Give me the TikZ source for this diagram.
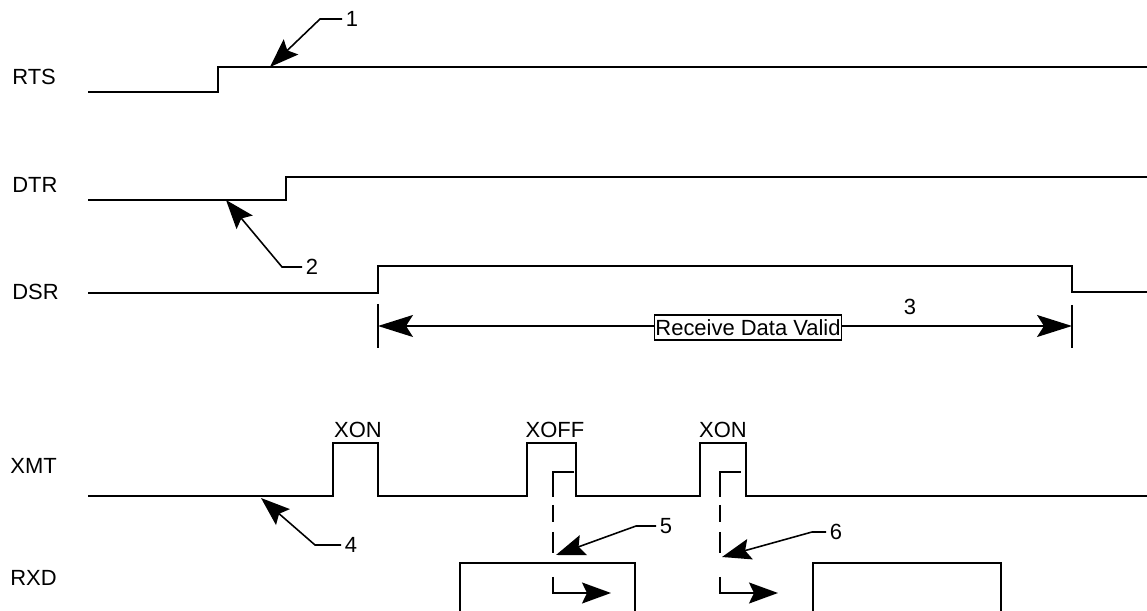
\documentclass[tikz,border=0pt]{standalone}
\usepackage{fontspec}
\setmainfont{Liberation Sans}
\usetikzlibrary{arrows.meta}

\tikzset{
  sig/.style={line width=1.1pt},
  lbl/.style={font=\fontsize{12.5}{14}\selectfont, inner sep=0pt},
  num/.style={lbl, inner sep=2pt},
  callout/.style={line width=0.9pt, -{Stealth[length=0.58cm,width=0.42cm,inset=0.1cm]}},
  dim/.style={line width=0.9pt, {Stealth[length=0.7cm,width=0.44cm,inset=0.14cm]}-{Stealth[length=0.7cm,width=0.44cm,inset=0.14cm]}},
  valid/.style={lbl, draw, fill=white, line width=0.8pt, inner xsep=0.5pt, minimum height=0.5cm},
  dashl/.style={line width=1pt, dash pattern=on 0.92cm off 0.16cm on 0.34cm off 0.2cm on 0.42cm off 0.48cm on 5cm,
    -{Stealth[length=0.58cm,width=0.42cm,inset=0.1cm]}}
}

\begin{document}
\begin{tikzpicture}[x=0.02cm,y=-0.02cm]
            \useasboundingbox (0,0) rectangle (1147,611);

            % Signal names
            \node[lbl,anchor=west] (rts) at (12,77) {RTS};
            \node[lbl,anchor=west] (dtr) at (12,185) {DTR};
            \node[lbl,anchor=west] (dsr) at (12,292) {DSR};
            \node[lbl,anchor=west] (xmt) at (10,466) {XMT};
            \node[lbl,anchor=west] (rxd) at (10,578) {RXD};

            % Waveforms
            \draw[sig] (88,92) -- (218,92) -- (218,67) -- (1147,67);
            \draw[sig] (88,200) -- (286,200) -- (286,177) -- (1147,177);
            \draw[sig] (88,293) -- (378,293) -- (378,266) -- (1072,266) -- (1072,292) -- (1147,292);
            \draw[sig] (88,496) -- (333,496) -- (333,443) -- (378,443) -- (378,496)
                -- (527,496) -- (527,443) -- (576,443) -- (576,496)
                -- (700,496) -- (700,443) -- (746,443) -- (746,496) -- (1147,496);
            \draw[sig] (460,611) -- (460,563) -- (635,563) -- (635,611);
            \draw[sig] (813,611) -- (813,563) -- (1001,563) -- (1001,611);

            % Pulse names
            \node[lbl] (xon1) at (358,430) {XON};
            \node[lbl] (xoff) at (555,430) {XOFF};
            \node[lbl] (xon2) at (723,430) {XON};

            % Receive data valid
            \coordinate (dl) at (378,326);
            \coordinate (dr) at (1072,326);
            \draw[sig] (378,304) -- (378,348);
            \draw[sig] (1072,305) -- (1072,348);
            \draw[dim] (dl) -- (dr);
            \node[valid] (rdv) at (748,327.5) {Receive Data Valid};
            \node[num] (c3) at (910,307) {3};

            % Delays
            \draw[dashl] (574,472) -- (553,472) -- (553,593) -- (611,593);
            \draw[dashl] (741,472) -- (720,472) -- (720,593) -- (778,593);

            % Callouts
            \coordinate (t1) at (270,67);
            \coordinate (t2) at (226,200);
            \coordinate (t4) at (261,498);
            \coordinate (t5) at (556,555);
            \coordinate (t6) at (722,557);
            \node[num] (c1) at (352,19) {1};
            \node[num] (c2) at (312,267) {2};
            \node[num] (c4) at (351,545) {4};
            \node[num] (c5) at (666,526) {5};
            \node[num] (c6) at (836,532) {6};
            \draw[callout] (c1.west) -- ++(-22,0) -- (t1);
            \draw[callout] (c2.west) -- ++(-20,0) -- (t2);
            \draw[callout] (c4.west) -- ++(-26,0) -- (t4);
            \draw[callout] (c5.west) -- ++(-20,0) -- (t5);
            \draw[callout] (c6.west) -- ++(-14,0) -- (t6);
\end{tikzpicture}
\end{document}
